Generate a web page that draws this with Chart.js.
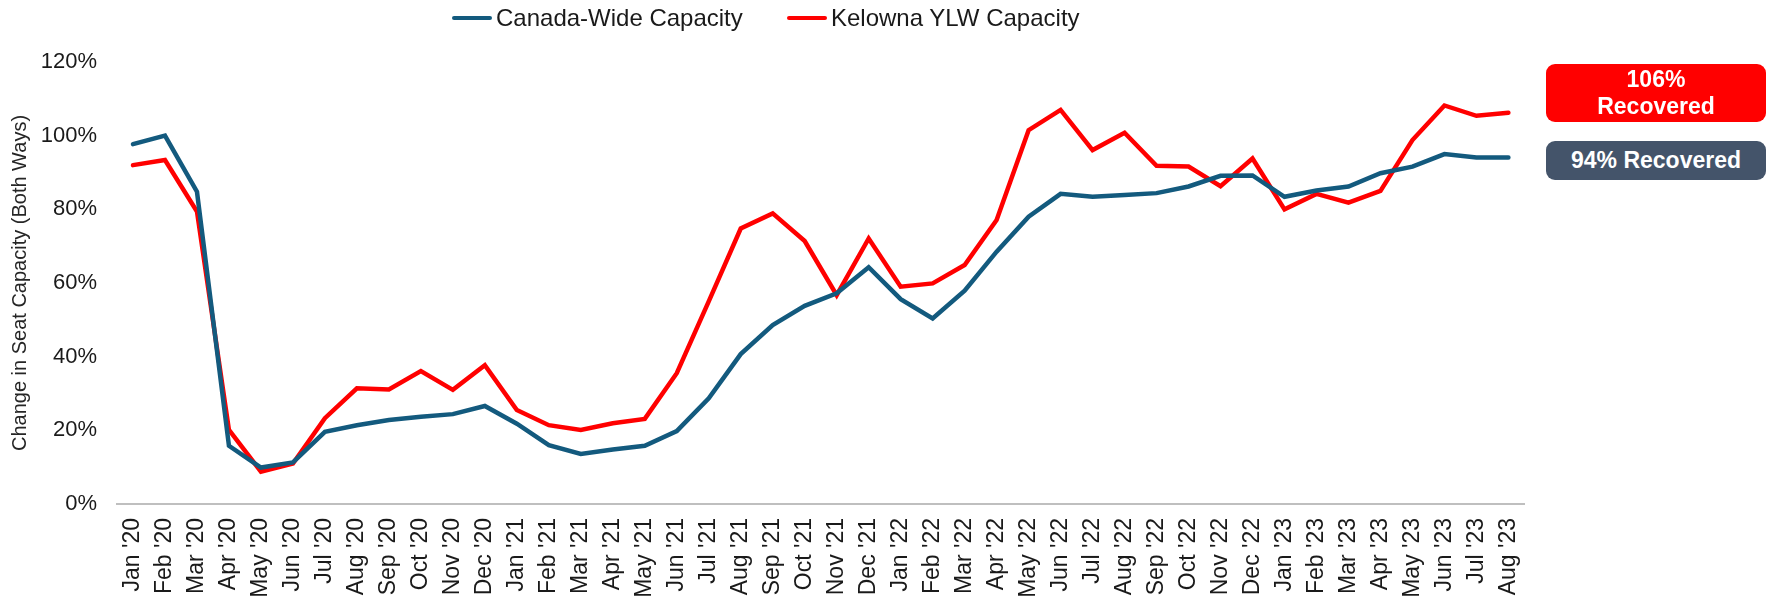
<!DOCTYPE html>
<html>
<head>
<meta charset="utf-8">
<script src="https://cdn.jsdelivr.net/npm/chart.js@4.4.1/dist/chart.umd.min.js"></script>
<style>
  html, body { margin: 0; padding: 0; background: #fff; }
  body { width: 1773px; height: 603px; position: relative; overflow: hidden;
         font-family: 'Liberation Sans', Arial, sans-serif; }
  #wrap { position: absolute; left: 0; top: 0; width: 1550px; height: 603px; }
  .legend-item { position: absolute; top: 4px; height: 28px; display: flex; align-items: center;
                 font-size: 24px; color: #1a1a1a; white-space: nowrap; }
  .legend-item i { display: inline-block; width: 40px; height: 4px; border-radius: 2px; margin-right: 4px; }
  .badge { position: absolute; left: 1546px; width: 220px; color: #fff; font-weight: bold;
           font-size: 23px; text-align: center; border-radius: 9px; display: flex;
           flex-direction: column; align-items: center; justify-content: center; }
  .badge.red { top: 64px; height: 58px; background: #ff0000; line-height: 27px; }
  .badge.slate { top: 141px; height: 39px; background: #44546a; }
</style>
</head>
<body>
<div id="wrap"><canvas id="chart" width="1550" height="603"></canvas></div>
<div id="legend"></div>
<div class="badge red"><span>106%</span><span>Recovered</span></div>
<div class="badge slate"><span>94% Recovered</span></div>

<script>
// Seat capacity recovery vs 2019, monthly Jan '20 – Aug '23.

const months = [
    "Jan '20", "Feb '20", "Mar '20", "Apr '20", "May '20", "Jun '20",
    "Jul '20", "Aug '20", "Sep '20", "Oct '20", "Nov '20", "Dec '20",
    "Jan '21", "Feb '21", "Mar '21", "Apr '21", "May '21", "Jun '21",
    "Jul '21", "Aug '21", "Sep '21", "Oct '21", "Nov '21", "Dec '21",
    "Jan '22", "Feb '22", "Mar '22", "Apr '22", "May '22", "Jun '22",
    "Jul '22", "Aug '22", "Sep '22", "Oct '22", "Nov '22", "Dec '22",
    "Jan '23", "Feb '23", "Mar '23", "Apr '23", "May '23", "Jun '23",
    "Jul '23", "Aug '23",
];

const canadaWide = [
    97.7, 100.0, 84.8, 15.8, 9.9, 11.3, 19.6, 21.4, 22.8, 23.7, 24.4, 26.6,
    21.8, 16.0, 13.6, 14.8, 15.8, 19.8, 28.7, 40.7, 48.6, 53.8, 57.2, 64.3,
    55.6, 50.4, 57.9, 68.5, 78.0, 84.2, 83.4, 83.9, 84.4, 86.2, 89.1, 89.2,
    83.4, 85.1, 86.2, 89.8, 91.6, 95.0, 94.1, 94.1,
];

const kelownaYLW = [
    92.0, 93.4, 79.4, 20.1, 8.8, 11.0, 23.3, 31.4, 31.1, 36.1, 31.0, 37.7,
    25.5, 21.4, 20.1, 21.9, 23.1, 35.5, 55.0, 74.8, 78.9, 71.4, 56.7, 72.1,
    59.0, 59.9, 64.9, 77.1, 101.5, 107.0, 96.1, 100.8, 91.8, 91.6, 86.3, 93.8,
    80.0, 84.2, 81.8, 85.0, 98.8, 108.2, 105.4, 106.2,
];

const yTicks = [0, 20, 40, 60, 80, 100, 120];

const SERIES = [
    { label: 'Canada-Wide Capacity', data: canadaWide, color: '#135a7e', legendX: 452 },
    { label: 'Kelowna YLW Capacity', data: kelownaYLW, color: '#ff0000', legendX: 787 },
];

const FONT = "'Liberation Sans', Arial, sans-serif";

// simple html legend, same colours as the lines
const legendEl = document.getElementById('legend');
SERIES.forEach((s) => {
    const item = document.createElement('div');
    item.className = 'legend-item';
    item.style.left = s.legendX + 'px';
    item.innerHTML = `<i style="background:${s.color}"></i>${s.label}`;
    legendEl.appendChild(item);
});

new Chart(document.getElementById('chart').getContext('2d'), {
    type: 'line',
    data: {
        labels: months,
        datasets: SERIES.map((s) => ({
            label: s.label,
            data: s.data,
            borderColor: s.color,
            backgroundColor: s.color,
            borderWidth: 4.5,
            borderCapStyle: 'round',
            borderJoinStyle: 'miter',
            pointRadius: 0,
            tension: 0,
        })),
    },
    options: {
        responsive: false,
        animation: false,
        layout: { padding: { top: 62, left: 4, right: 0, bottom: 5 } },
        plugins: {
            legend: { display: false },
            tooltip: { enabled: false },
        },
        scales: {
            x: {
                offset: true,
                grid: { display: false, drawTicks: false },
                border: { display: true, color: '#bfbfbf', width: 2 },
                ticks: {
                    autoSkip: false,
                    minRotation: 90,
                    maxRotation: 90,
                    padding: 14,
                    color: '#1a1a1a',
                    font: { family: FONT, size: 23 },
                },
                // fixed height so the plot bottom lands at 0% like the source
                afterFit: (axis) => { axis.height = 94; },
            },
            y: {
                min: yTicks[0],
                max: yTicks[yTicks.length - 1],
                afterBuildTicks: (axis) => { axis.ticks = yTicks.map((v) => ({ value: v })); },
                afterFit: (axis) => { axis.width = 113; },
                grid: { display: false, drawTicks: false },
                border: { display: false },
                ticks: {
                    padding: 20,
                    color: '#1a1a1a',
                    font: { family: FONT, size: 22 },
                    callback: (v) => v + '%',
                },
                title: {
                    display: true,
                    text: 'Change in Seat Capacity (Both Ways)',
                    color: '#262626',
                    font: { family: FONT, size: 20 },
                    padding: { top: 4, bottom: 8 },
                },
            },
        },
    },
});
</script>
</body>
</html>
